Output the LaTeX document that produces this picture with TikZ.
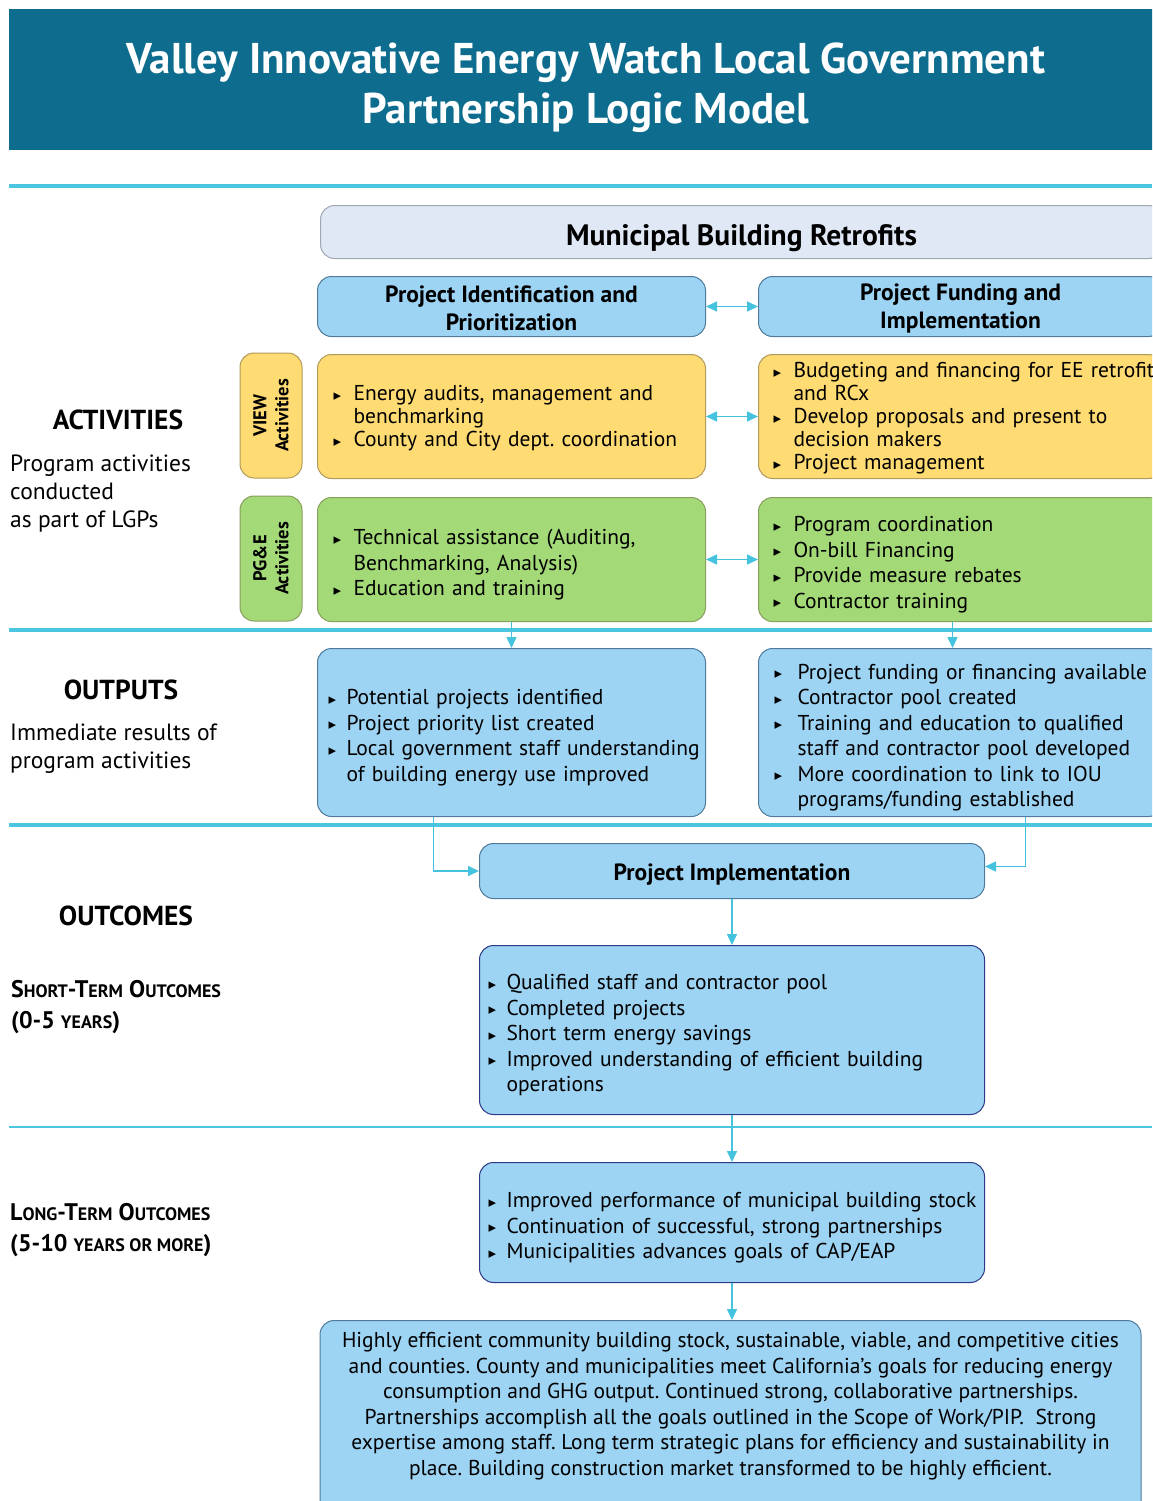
\documentclass[tikz,border=0pt]{standalone}
\usepackage{fontspec}
\setmainfont{PT Sans}
\newfontfamily\symf{DejaVu Sans}
\usetikzlibrary{arrows.meta}
\frenchspacing
\definecolor{titlebg}{HTML}{0E6D8E}
\definecolor{sepc}{HTML}{4BC6E0}
\definecolor{arrc}{HTML}{45C2DE}
\definecolor{bluef}{HTML}{9DD3F3}
\definecolor{blued}{HTML}{4F7C9C}
\definecolor{navyd}{HTML}{2E3A87}
\definecolor{mbrf}{HTML}{E0E8F6}
\definecolor{mbrd}{HTML}{A0A8B4}
\definecolor{yelf}{HTML}{FFDB73}
\definecolor{yeld}{HTML}{B09A5C}
\definecolor{grnf}{HTML}{A3D977}
\definecolor{grnd}{HTML}{8A9E5E}
\newcommand\bul{\raisebox{0.5pt}{\fontsize{15}{15}\symf ▸}}
% one-line item
\newcommand\bi[2]{\noindent\makebox[#1pt][l]{\bul}\mbox{#2}\par}
% two-line item
\newcommand\bj[3]{\noindent\makebox[#1pt][l]{\bul}\mbox{#2}\par\noindent\hspace*{#1pt}\mbox{#3}\par}
% first-line struts (shift text down inside a centred box)
\newcommand\fs{\rule{0pt}{26pt}}
\newcommand\fy{\rule{0pt}{19pt}}
\newcommand\scs[1]{{\fontsize{18}{18}\selectfont #1}}
\begin{document}
\begin{tikzpicture}[x=1pt,y=-1pt,
  box/.style={rounded corners=14pt,line width=1pt,anchor=north west,inner sep=0pt},
  bluebox/.style={box,fill=bluef,draw=blued},
  navybox/.style={box,fill=bluef,draw=navyd},
  yelbox/.style={box,fill=yelf,draw=yeld},
  grnbox/.style={box,fill=grnf,draw=grnd},
  sepline/.style={draw=sepc,line width=3.5pt},
  arr/.style={draw=arrc,line width=1.6pt,-{Triangle[length=11pt,width=10pt]}},
  darr/.style={draw=arrc,line width=1.6pt,{Triangle[length=11pt,width=10pt]}-{Triangle[length=11pt,width=10pt]}},
  body/.style={font=\fontsize{21.5}{25.5}\selectfont,align=left},
  hdr/.style={font=\fontsize{23.5}{28}\selectfont\bfseries,align=center},
  lbl/.style={font=\fontsize{27.5}{30}\selectfont\bfseries},
  sub/.style={font=\fontsize{23.5}{28}\selectfont,align=left,anchor=north west,inner sep=0pt},
  side/.style={box,anchor=center,rotate=90,minimum width=125pt,minimum height=62pt,
    font=\fontsize{18.5}{22}\selectfont\bfseries,align=center},
]
\useasboundingbox (0,0) rectangle (1152,1501);
\clip (0,0) rectangle (1152,1501);

% title
\node[anchor=north west,fill=titlebg,minimum width=1153pt,minimum height=141pt,inner sep=0pt,
  text=white,font=\fontsize{43}{50}\selectfont\bfseries,align=center] (title) at (9,9)
  {\rule{0pt}{46pt}Valley Innovative Energy Watch Local Government\\Partnership Logic Model};

% separators
\draw[sepline] (9,186) -- (1152,186);
\draw[sepline] (9,630) -- (1152,630);
\draw[sepline] (9,825) -- (1152,825);
\draw[sepline,line width=2.5pt] (9,1127) -- (1152,1127);

% left labels
\node[lbl] (actL) at (118,420) {ACTIVITIES};
\node[sub] (actS) at (10,455) {Program activities\\conducted\\as part of LGPs};
\node[lbl] (outLb) at (121,690) {OUTPUTS};
\node[sub] (outS) at (10,724) {Immediate results of\\program activities};
\node[lbl] (ocL) at (126,916) {OUTCOMES};
\node[anchor=north west,inner sep=0pt,align=left,font=\fontsize{24}{31}\selectfont\bfseries] (stL) at (11,980)
  {S\scs{HORT}-T\scs{ERM} O\scs{UTCOMES}\\(0-5 \scs{YEARS})};
\node[anchor=north west,inner sep=0pt,align=left,font=\fontsize{24}{31}\selectfont\bfseries] (ltL) at (10,1203)
  {L\scs{ONG}-T\scs{ERM} O\scs{UTCOMES}\\(5-10 \scs{YEARS OR MORE})};

% municipal
\node[box,fill=mbrf,draw=mbrd,minimum width=842pt,minimum height=53pt,
  font=\fontsize{29.5}{30}\selectfont\bfseries] (mbr) at (320,205) {\rule{0pt}{33pt}Municipal Building Retrofits};

% headers
\node[bluebox,minimum width=388pt,minimum height=60pt,hdr] (hdrL) at (317,276)
  {\rule{0pt}{21pt}Project Identification and\\Prioritization};
\node[bluebox,minimum width=404pt,minimum height=60pt,hdr] (hdrR) at (758,276)
  {\rule{0pt}{21pt}Project Funding and\\Implementation};

% side labels
\node[side,fill=yelf,draw=yeld] (viewS) at (271,415.5) {VIEW\\Activities};
\node[side,fill=grnf,draw=grnd] (pgeS) at (271,558.5) {PG\&E\\Activities};

% activities
\node[yelbox,minimum height=124pt,inner xsep=16pt,text width=356pt,body,font=\fontsize{21.5}{23}\selectfont] (yelL) at (317,354)
  {\bj{20}{\fy Energy audits, management and}{benchmarking}
   \bi{20}{County and City dept. coordination}};
\node[yelbox,minimum height=124pt,inner xsep=15pt,text width=374pt,body,font=\fontsize{21.5}{23}\selectfont] (yelR) at (758,354)
  {\bj{20}{\fy Budgeting and financing for EE retrofit}{and RCx}
   \bj{20}{Develop proposals and present to}{decision makers}
   \bi{20}{Project management}};
\node[grnbox,minimum height=124pt,inner xsep=16pt,text width=356pt,body] (grnL) at (317,497)
  {\bj{20}{\fs Technical assistance (Auditing,}{Benchmarking, Analysis)}
   \bi{20}{Education and training}};
\node[grnbox,minimum height=124pt,inner xsep=15pt,text width=374pt,body] (grnR) at (758,497)
  {\bi{20}{\fs Program coordination}
   \bi{20}{On-bill Financing}
   \bi{20}{Provide measure rebates}
   \bi{20}{Contractor training}};

% outputs
\node[bluebox,minimum height=168pt,inner xsep=11pt,text width=366pt,body] (outL) at (317,648)
  {\bi{18}{\fs Potential projects identified}
   \bi{18}{Project priority list created}
   \bj{18}{Local government staff understanding}{of building energy use improved}};
\node[bluebox,minimum height=168pt,inner xsep=16pt,text width=372pt,body] (outR) at (758,648)
  {\bi{23}{\fs Project funding or financing available}
   \bi{23}{Contractor pool created}
   \bj{23}{Training and education to qualified}{staff and contractor pool developed}
   \bj{23}{More coordination to link to IOU}{programs/funding established}};

% outcomes
\node[bluebox,minimum width=505pt,minimum height=55pt,hdr] (impl) at (479,843)
  {\rule{0pt}{23pt}Project Implementation};
\node[navybox,minimum height=169pt,inner xsep=9pt,text width=487pt,body] (st) at (479,945)
  {\bi{18}{\fs Qualified staff and contractor pool}
   \bi{18}{Completed projects}
   \bi{18}{Short term energy savings}
   \bj{18}{Improved understanding of efficient building}{operations}};
\node[navybox,minimum height=120pt,inner xsep=9pt,text width=487pt,body] (lt) at (479,1162)
  {\bi{18}{\fs Improved performance of municipal building stock}
   \bi{18}{Continuation of successful, strong partnerships}
   \bi{18}{Municipalities advances goals of CAP/EAP}};
\node[bluebox,anchor=north,minimum width=821pt,inner ysep=12pt,text depth=80pt,align=center,
  font=\fontsize{21.5}{25.5}\selectfont] (fin) at (730.5,1320)
  {Highly efficient community building stock, sustainable, viable, and competitive cities\\
   and counties. County and municipalities meet California’s goals for reducing energy\\
   consumption and GHG output. Continued strong, collaborative partnerships.\\
   Partnerships accomplish all the goals outlined in the Scope of Work/PIP.\ \ Strong\\
   expertise among staff. Long term strategic plans for efficiency and sustainability in\\
   place. Building construction market transformed to be highly efficient.};

% connectors
\draw[darr] (hdrL) -- (hdrR);
\draw[darr] (yelL) -- (yelR);
\draw[darr] (grnL) -- (grnR);
\draw[arr] (grnL.south) -- (outL.north);
\draw[arr] ([xshift=-8pt]grnR.south) -- ([xshift=-8pt]outR.north);
\draw[arr] ([xshift=-78pt]outL.south) |- (impl.west);
\draw[arr] ([xshift=65pt]outR.south) |- ([yshift=4.5pt]impl.east);
\draw[arr] (impl) -- (st);
\draw[arr] (st) -- (lt);
\draw[arr] (lt.south) -- (lt.south |- fin.north);
\end{tikzpicture}
\end{document}
